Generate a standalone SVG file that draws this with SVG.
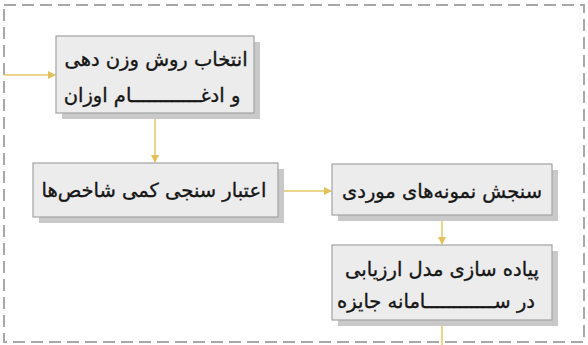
<svg xmlns="http://www.w3.org/2000/svg" width="588" height="345" viewBox="0 0 588 345">
<defs>
<style>
.frame{fill:none;stroke:#a8a8a8;stroke-width:2;stroke-dasharray:12 6}
.shadow{fill:#c9c9c9}
.box{fill:#ececec;stroke:#a3a3a3;stroke-width:1.2}
.lbl{font-family:"DejaVu Sans",sans-serif;font-size:19.5px;fill:#161616;stroke:#161616;stroke-width:0.35;direction:rtl;text-anchor:middle}
.conn{fill:none;stroke:#e6c766;stroke-width:1.5}
</style>
<marker id="ah" markerWidth="8" markerHeight="8" refX="7" refY="4" orient="auto" markerUnits="userSpaceOnUse">
<path d="M0,0 L8,4 L0,8 z" fill="#e2c15a"/>
</marker>
</defs>
<rect width="588" height="345" fill="#ffffff"/>
<rect class="frame" x="4" y="5" width="580" height="337"/>
<g id="connectors">
<line class="conn" x1="4" y1="75" x2="55" y2="75" marker-end="url(#ah)"/>
<line class="conn" x1="155" y1="114" x2="155" y2="162" marker-end="url(#ah)"/>
<line class="conn" x1="278" y1="191" x2="331" y2="191" marker-end="url(#ah)"/>
<line class="conn" x1="442" y1="216" x2="442" y2="244" marker-end="url(#ah)"/>
<line class="conn" x1="442" y1="321" x2="442" y2="345"/>
</g>
<g id="n1">
<rect class="shadow" x="62" y="42" width="198" height="77"/>
<rect class="box" x="56" y="36" width="198" height="77"/>
<text class="lbl" x="156" y="66">انتخاب روش وزن دهی</text>
<text class="lbl" x="152" y="102">و ادغــــــــــــام اوزان</text>
</g>
<g id="n2">
<rect class="shadow" x="39" y="169" width="245" height="54"/>
<rect class="box" x="33" y="163" width="245" height="54"/>
<text class="lbl" x="154" y="197">اعتبار سنجی کمی شاخص&#x200C;ها</text>
</g>
<g id="n3">
<rect class="shadow" x="338" y="170" width="220" height="51"/>
<rect class="box" x="332" y="164" width="220" height="51"/>
<text class="lbl" x="442" y="198">سنجش نمونه&#x200C;های موردی</text>
</g>
<g id="n4">
<rect class="shadow" x="338" y="251" width="220" height="75"/>
<rect class="box" x="332" y="245" width="220" height="75"/>
<text class="lbl" x="442" y="276">پیاده سازی مدل ارزیابی</text>
<text class="lbl" x="436" y="308">در ســــــــــــامانه جایزه</text>
</g>
</svg>
